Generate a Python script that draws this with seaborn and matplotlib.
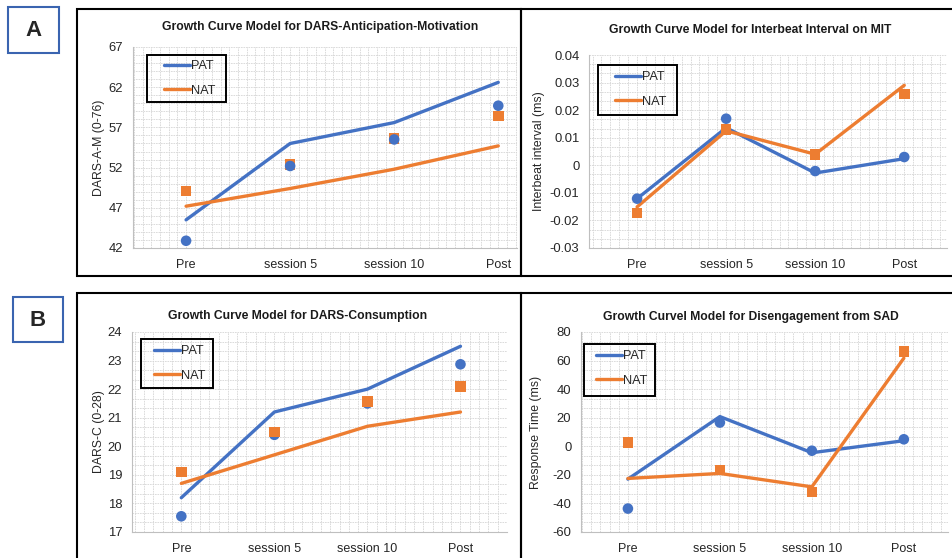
import numpy as np
import pandas as pd
import matplotlib
matplotlib.use("Agg")
import matplotlib.pyplot as plt
import seaborn as sns
from matplotlib.lines import Line2D
from matplotlib.patches import Rectangle
from matplotlib.ticker import MultipleLocator, FuncFormatter

# Data
sessions = ["Pre", "session 5", "session 10", "Post"]
groups = ["PAT", "NAT"]

# A: DARS-Anticipation-Motivation
am_pat_fit = [45.5, 55.0, 57.6, 62.6]
am_nat_fit = [47.2, 49.4, 51.8, 54.7]
am_pat_obs = [42.9, 52.2, 55.5, 59.7]
am_nat_obs = [49.1, 52.4, 55.6, 58.4]

# A: Interbeat interval on MIT
ibi_pat_fit = [-0.0121, 0.0136, -0.0028, 0.0024]
ibi_nat_fit = [-0.0151, 0.0125, 0.0040, 0.0290]
ibi_pat_obs = [-0.0121, 0.0169, -0.0021, 0.0030]
ibi_nat_obs = [-0.0173, 0.0129, 0.0040, 0.0259]

# B: DARS-Consumption
c_pat_fit = [18.2, 21.2, 22.0, 23.5]
c_nat_fit = [18.7, 19.7, 20.7, 21.2]
c_pat_obs = [17.55, 20.4, 21.5, 22.87]
c_nat_obs = [19.1, 20.5, 21.57, 22.1]

# B: Disengagement from SAD
sad_pat_fit = [-23.0, 20.8, -4.5, 3.9]
sad_nat_fit = [-22.5, -19.0, -28.4, 61.7]
sad_pat_obs = [-43.6, 16.6, -3.1, 4.9]
sad_nat_obs = [2.7, -16.7, -31.9, 66.4]

W, H = 952, 558
BLUE = "#4472C4"
ORANGE = "#ED7D31"
palette = {"PAT": BLUE, "NAT": ORANGE}
marker_map = {"PAT": "o", "NAT": "s"}

sns.set_style("white")
plt.rcParams["font.family"] = ["Liberation Sans", "DejaVu Sans"]

fig = plt.figure(figsize=(W / 100, H / 100), dpi=100)


# pixel helpers (origin at top-left, like the picture)
def fx(x):
    return x / W


def fy(y):
    return 1 - y / H


def add_box(x0, y0, x1, y1, color="black", lw=1.5):
    fig.add_artist(Rectangle((fx(x0), fy(y1)), fx(x1) - fx(x0), fy(y0) - fy(y1),
                             transform=fig.transFigure, fill=False, ec=color, lw=lw))


def tick_fmt(v, pos):
    v = round(v, 4) + 0.0
    return f"{v:g}"


def panel(rect, xlim, ylim, ystep, ny, nx, title, title_xy, ylabel, ylabel_x,
          pat_fit, nat_fit, pat_obs, nat_obs, legend_box, legend_xy, nat_on_top=True):
    x0, y0, x1, y1 = rect
    ax = fig.add_axes([fx(x0), fy(y1), fx(x1) - fx(x0), fy(y0) - fy(y1)])

    fit = pd.DataFrame({"session": sessions * 2,
                        "value": pat_fit + nat_fit,
                        "group": ["PAT"] * 4 + ["NAT"] * 4})
    if nat_on_top:
        obs = pd.DataFrame({"session": sessions * 2, "value": pat_obs + nat_obs,
                            "group": ["PAT"] * 4 + ["NAT"] * 4})
    else:
        obs = pd.DataFrame({"session": sessions * 2, "value": nat_obs + pat_obs,
                            "group": ["NAT"] * 4 + ["PAT"] * 4})

    sns.lineplot(data=fit, x="session", y="value", hue="group", hue_order=groups,
                 palette=palette, lw=2.4, sort=False, legend=False, ax=ax)
    sns.scatterplot(data=obs, x="session", y="value", hue="group", style="group",
                    palette=palette, markers=marker_map, s=58, linewidth=0,
                    legend=False, zorder=3, ax=ax)

    # ticks start at the axis minimum (e.g. 42, 47, ... 67)
    eps = ystep * 1e-3
    ax.set_yticks(np.arange(ylim[0], ylim[1] + eps, ystep))
    ax.set_yticks(np.arange(ylim[0], ylim[1] + eps, ystep / ny), minor=True)
    ax.set_xlim(*xlim)
    ax.set_ylim(*ylim)
    ax.yaxis.set_major_formatter(FuncFormatter(tick_fmt))
    ax.xaxis.set_minor_locator(MultipleLocator(1 / nx))
    ax.grid(which="both", color="#d6d6d6", lw=0.6, ls=(0, (2, 1)))
    ax.set_axisbelow(True)

    for s in ["top", "right"]:
        ax.spines[s].set_visible(False)
    for s in ["left", "bottom"]:
        ax.spines[s].set_color("#bfbfbf")
        ax.spines[s].set_linewidth(0.8)
    ax.tick_params(axis="y", which="major", length=4, width=0.8, color="#bfbfbf",
                   pad=3, labelsize=9.4, labelcolor="#262626")
    ax.tick_params(axis="x", which="major", length=0, pad=8, labelsize=9,
                   labelcolor="#262626")
    ax.tick_params(which="minor", length=0)

    ax.set_xlabel("")
    ax.set_ylabel(ylabel, fontsize=8.8, color="#262626")
    ax.yaxis.set_label_coords(fx(ylabel_x), fy((y0 + y1) / 2), transform=fig.transFigure)

    fig.text(fx(title_xy[0]), fy(title_xy[1]), title, ha="center", va="center",
             fontsize=8.7, fontweight="bold", color="#1a1a1a")

    # legend: lines only, with a plain black box around it
    handles = [Line2D([], [], color=BLUE, lw=2.4), Line2D([], [], color=ORANGE, lw=2.4)]
    ax.legend(handles, groups, loc="upper left", bbox_to_anchor=(fx(legend_xy[0]), fy(legend_xy[1])),
              bbox_transform=fig.transFigure, frameon=False, borderpad=0, borderaxespad=0,
              handlelength=2.0, handletextpad=0.1, labelspacing=1.0, fontsize=9.2)
    add_box(*legend_box, lw=1.4)
    return ax


# Panel frames
add_box(77, 9, 521, 276)
add_box(521, 9, 960, 276)
add_box(77, 293, 521, 570)
add_box(521, 293, 960, 570)

# A / B labels
add_box(8, 7, 59, 53, color="#3A64B0", lw=1.5)
fig.text(fx(33.5), fy(31), "A", ha="center", va="center", fontsize=16, fontweight="bold")
add_box(13, 297, 63, 342, color="#3A64B0", lw=1.5)
fig.text(fx(38), fy(320), "B", ha="center", va="center", fontsize=16, fontweight="bold")

panel((133, 47, 517, 248), (-0.51, 3.18), (42, 67), 5, 5, 12,
      "Growth Curve Model for DARS-Anticipation-Motivation", (320, 27),
      "DARS-A-M (0-76)", 105, am_pat_fit, am_nat_fit, am_pat_obs, am_nat_obs,
      (147, 55, 226, 102), (164, 60), nat_on_top=False)

panel((589, 55, 947, 248), (-0.54, 3.48), (-0.03, 0.04), 0.01, 3, 10,
      "Growth Curve Model for Interbeat Interval on MIT", (750, 30),
      "Interbeat interval (ms)", 545, ibi_pat_fit, ibi_nat_fit, ibi_pat_obs, ibi_nat_obs,
      (598, 65, 677, 115), (615, 71))

panel((132, 332, 507, 532), (-0.53, 3.5), (17, 24), 1, 3, 10,
      "Growth Curve Model for DARS-Consumption", (298, 316),
      "DARS-C (0-28)", 105, c_pat_fit, c_nat_fit, c_pat_obs, c_nat_obs,
      (141, 339, 213, 388), (154, 345))

panel((581, 332, 948, 532), (-0.51, 3.48), (-60, 80), 20, 3, 10,
      "Growth Curvel Model for Disengagement from SAD", (751, 317),
      "Response Time (ms)", 542, sad_pat_fit, sad_nat_fit, sad_pat_obs, sad_nat_obs,
      (584, 344, 655, 396), (596, 350))

fig.savefig("out.png", dpi=100)
